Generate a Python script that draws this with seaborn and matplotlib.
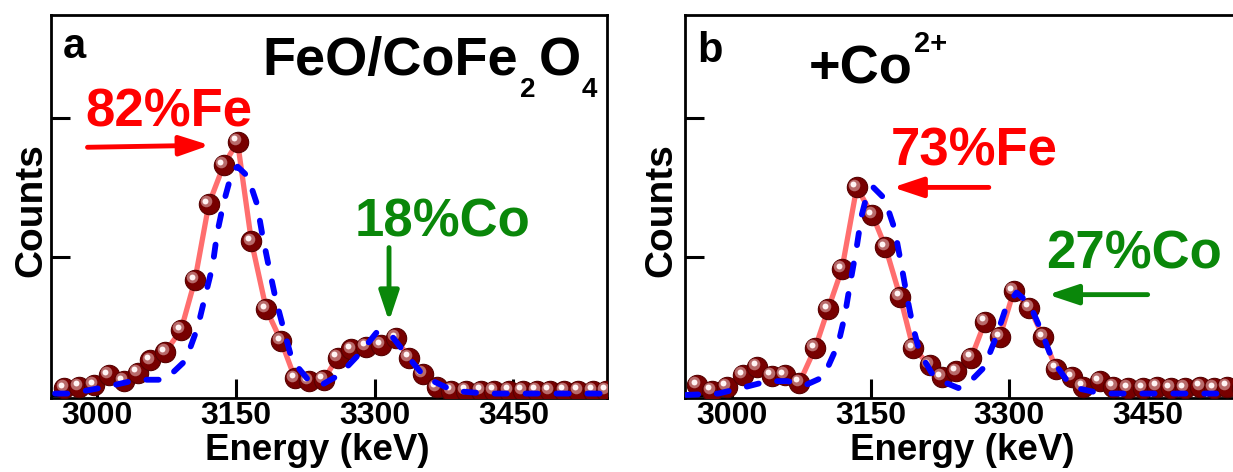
import numpy as np
import pandas as pd
import matplotlib
matplotlib.use("Agg")
import matplotlib.pyplot as plt
import matplotlib.transforms as mtransforms
import seaborn as sns

# ---------------- data ----------------
# panel a : FeO/CoFe2O4
a_energy = [2965, 2981, 2997, 3013, 3029, 3044, 3058, 3074, 3091, 3106, 3121, 3137, 3152,
            3167, 3183, 3199, 3214, 3229, 3245, 3260, 3275, 3291, 3307, 3323, 3337, 3352,
            3367, 3383, 3399, 3415, 3429, 3445, 3460, 3475, 3489, 3505, 3520, 3536, 3550]
a_counts = [0.05, 0.06, 0.07, 0.145, 0.10, 0.16, 0.25, 0.31, 0.47, 0.83, 1.38, 1.66, 1.83,
            1.11, 0.62, 0.39, 0.12, 0.10, 0.11, 0.27, 0.33, 0.35, 0.36, 0.41, 0.27, 0.15,
            0.055, 0.03, 0.03, 0.03, 0.03, 0.03, 0.03, 0.03, 0.03, 0.03, 0.03, 0.03, 0.03]
a_fit_energy = [2955, 2972, 3011, 3044, 3074, 3096, 3109, 3118, 3125, 3130, 3137, 3146, 3152,
                3163, 3173, 3179, 3186, 3193, 3202, 3211, 3227, 3242, 3262, 3284, 3302, 3317,
                3332, 3354, 3385, 3420, 3550]
a_fit_counts = [0.01, 0.01, 0.06, 0.11, 0.11, 0.25, 0.49, 0.74, 0.93, 1.17, 1.39, 1.61, 1.65,
                1.58, 1.38, 1.15, 0.92, 0.70, 0.47, 0.25, 0.12, 0.07, 0.145, 0.30, 0.45, 0.44,
                0.31, 0.13, 0.03, 0.01, 0.01]

# panel b : +Co2+
b_energy = [2962, 2978, 2994, 3012, 3027, 3043, 3057, 3073, 3090, 3104, 3119, 3135, 3152,
            3166, 3182, 3196, 3214, 3227, 3243, 3259, 3274, 3290, 3305, 3322, 3337, 3351,
            3368, 3380, 3398, 3413, 3429, 3445, 3460, 3475, 3490, 3507, 3522, 3536, 3552]
b_counts = [0.07, 0.03, 0.06, 0.145, 0.205, 0.14, 0.145, 0.09, 0.34, 0.62, 0.91, 1.50, 1.30,
            1.07, 0.71, 0.34, 0.215, 0.13, 0.17, 0.27, 0.53, 0.42, 0.75, 0.63, 0.42, 0.19,
            0.13, 0.06, 0.10, 0.06, 0.05, 0.05, 0.06, 0.05, 0.05, 0.06, 0.05, 0.06, 0.05]
b_fit_energy = [2950, 2985, 3010, 3039, 3060, 3079, 3099, 3115, 3122, 3128, 3135, 3140, 3147,
                3153, 3165, 3176, 3183, 3190, 3196, 3203, 3216, 3227, 3245, 3256, 3273, 3286,
                3297, 3308, 3322, 3335, 3347, 3362, 3373, 3400, 3550]
b_fit_counts = [0.00, 0.01, 0.05, 0.10, 0.10, 0.07, 0.13, 0.37, 0.57, 0.81, 1.07, 1.29, 1.47,
                1.50, 1.42, 1.20, 0.95, 0.69, 0.49, 0.31, 0.16, 0.10, 0.05, 0.085, 0.20, 0.42,
                0.64, 0.74, 0.66, 0.46, 0.25, 0.11, 0.05, 0.01, 0.01]

x_ticks = [3000, 3150, 3300, 3450]
y_ticks = [0, 1, 2]

# ---------------- style ----------------
sns.set_theme(style="ticks")
plt.rcParams["font.family"] = ["Liberation Sans", "DejaVu Sans"]
plt.rcParams["font.weight"] = "bold"

SALMON = "#FF6E6E"
MAROON = "#780000"
BLUE = "#0000FF"
RED = "#FF0000"
GREEN = "#0A870A"

W, H = 1233, 472
fig = plt.figure(figsize=(W / 100, H / 100), dpi=100)


def px_rect(left, right, top, bottom):
    return [left / W, 1 - bottom / H, (right - left) / W, (bottom - top) / H]


axA = fig.add_axes(px_rect(51.4, 607, 15, 398))
axB = fig.add_axes(px_rect(684.5, 1240, 15, 398))


def draw_panel(ax, ex, ey, fx, fy, xlim):
    df_e = pd.DataFrame({"Energy": ex, "Counts": ey})
    df_f = pd.DataFrame({"Energy": fx, "Counts": fy})
    sns.lineplot(data=df_e, x="Energy", y="Counts", ax=ax, color=SALMON, lw=3.8,
                 sort=False, estimator=None, zorder=2)
    sns.scatterplot(data=df_e, x="Energy", y="Counts", ax=ax, s=215, color=MAROON,
                    edgecolor="#560000", linewidth=0.8, zorder=3)
    # sphere highlights
    off1 = ax.transData + mtransforms.ScaledTranslation(-2.0 / 72, 2.0 / 72, fig.dpi_scale_trans)
    sns.scatterplot(data=df_e, x="Energy", y="Counts", ax=ax, s=70, color="#b86a6a",
                    linewidth=0, zorder=4)
    ax.collections[-1].set_offset_transform(off1)
    off2 = ax.transData + mtransforms.ScaledTranslation(-2.4 / 72, 2.4 / 72, fig.dpi_scale_trans)
    sns.scatterplot(data=df_e, x="Energy", y="Counts", ax=ax, s=18, color="#fff4f4",
                    linewidth=0, zorder=5)
    ax.collections[-1].set_offset_transform(off2)
    sns.lineplot(data=df_f, x="Energy", y="Counts", ax=ax, color=BLUE, lw=4.2,
                 sort=False, estimator=None, linestyle=(0, (2.1, 3.2)),
                 dash_capstyle="round", zorder=6)
    ax.set_xlim(*xlim)
    ax.set_ylim(-0.022, 2.746)
    ax.set_xticks(x_ticks)
    ax.set_xticklabels([str(t) for t in x_ticks])
    ax.set_yticks(y_ticks)
    ax.set_yticklabels([])
    ax.tick_params(axis="both", direction="in", length=14, width=2.2, colors="black",
                   top=False, right=False)
    ax.tick_params(axis="x", labelsize=23, pad=2)
    for lab in ax.get_xticklabels():
        lab.set_fontweight("bold")
    for sp in ax.spines.values():
        sp.set_visible(True)
        sp.set_color("black")
        sp.set_linewidth(2.0)
    ax.set_xlabel("Energy (keV)", fontsize=26.5, fontweight="bold", color="black")
    ax.set_ylabel("Counts", fontsize=28, fontweight="bold", color="black")
    ax.set_facecolor("white")


draw_panel(axA, a_energy, a_counts, a_fit_energy, a_fit_counts, (2951, 3551))
draw_panel(axB, b_energy, b_counts, b_fit_energy, b_fit_counts, (2948.5, 3550))

axA.xaxis.set_label_coords(0.478, -0.091)
axA.yaxis.set_label_coords(-0.003, 0.49)
axB.xaxis.set_label_coords(0.501, -0.091)
axB.yaxis.set_label_coords(-0.010, 0.491)


def txt(ax, fx, fy, s, size, color="black"):
    ax.text(fx, fy, s, transform=ax.transAxes, ha="left", va="baseline",
            fontsize=size, fontweight="bold", color=color, clip_on=False, zorder=10)


def arrow(ax, tail, tip, color):
    ax.annotate("", xy=tip, xytext=tail, xycoords="data", textcoords="data",
                arrowprops=dict(arrowstyle="-|>,head_length=0.9,head_width=0.3",
                                color=color, lw=3.5, mutation_scale=20,
                                shrinkA=0, shrinkB=0), zorder=10)


# panel a annotations
txt(axA, 0.021, 0.888, "a", 30)
txt(axA, 0.379, 0.843, "FeO/CoFe", 39)
txt(axA, 0.8434, 0.786, "2", 20)
txt(axA, 0.8775, 0.843, "O", 39)
txt(axA, 0.955, 0.786, "4", 20)
txt(axA, 0.062, 0.708, "82%Fe", 38, RED)
txt(axA, 0.545, 0.421, "18%Co", 38, GREEN)
arrow(axA, (2990, 1.79), (3122, 1.805), RED)
arrow(axA, (3315.6, 1.065), (3315.6, 0.531), GREEN)

# panel b annotations
txt(axB, 0.0225, 0.877, "b", 30)
txt(axB, 0.224, 0.822, "+Co", 39)
txt(axB, 0.413, 0.903, "2+", 21)
txt(axB, 0.372, 0.608, "73%Fe", 38, RED)
txt(axB, 0.651, 0.339, "27%Co", 38, GREEN)
arrow(axB, (3278, 1.50), (3174, 1.50), RED)
arrow(axB, (3450, 0.725), (3342, 0.725), GREEN)

fig.savefig("out.png", dpi=100, facecolor="white")
